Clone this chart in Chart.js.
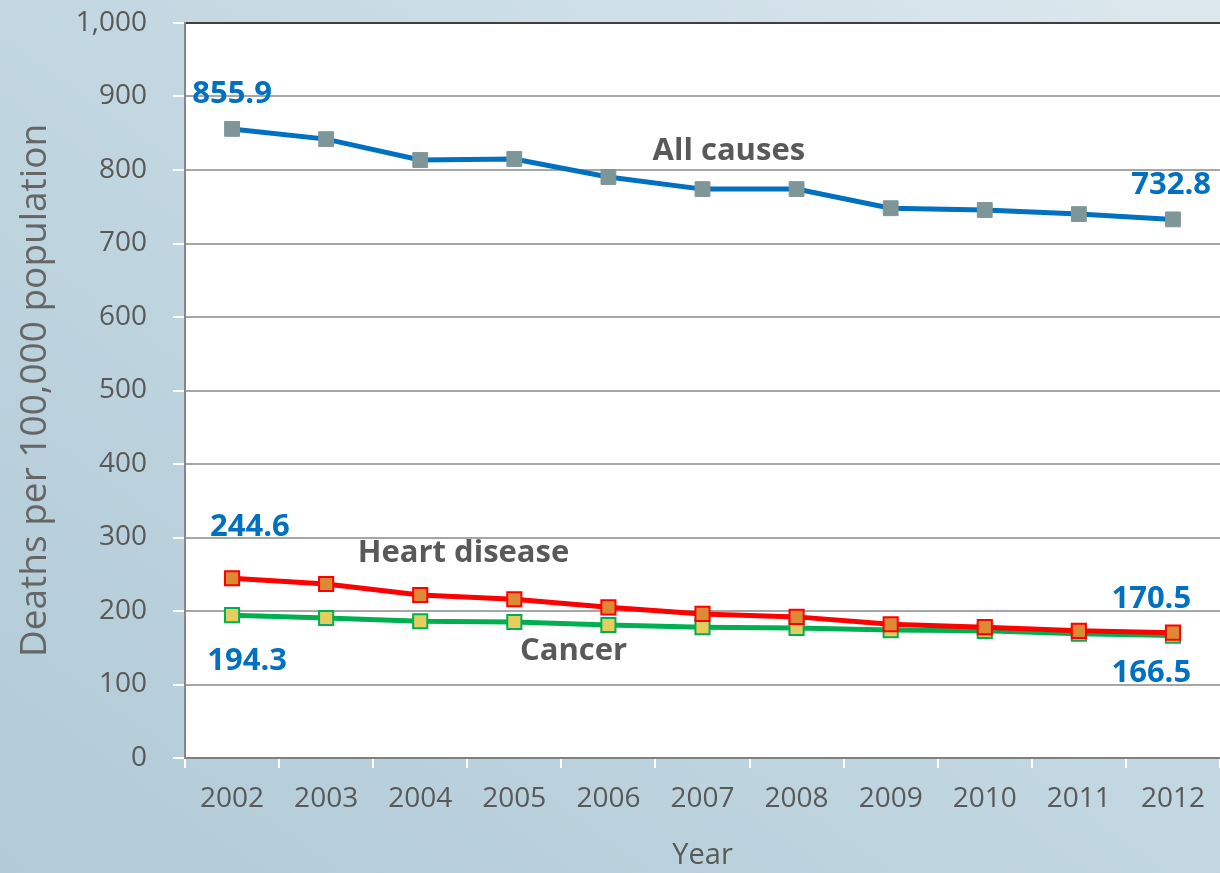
<!DOCTYPE html>
<html>
<head>
<meta charset="utf-8">
<script src="https://cdn.jsdelivr.net/npm/chart.js@4"></script>
<style>
  html, body { margin: 0; padding: 0; }
  body {
    width: 1220px; height: 873px; overflow: hidden;
    background: linear-gradient(to top right, #b2cbd8 0%, #c3d8e2 55%, #dde8ee 100%);
  }
  #wrap { position: relative; width: 1220px; height: 873px; }
</style>
</head>
<body>
<div id="wrap"><canvas id="deathChart" width="1220" height="873"></canvas></div>
<script>
// Дані з графіка
const years = ["2002", "2003", "2004", "2005", "2006", "2007", "2008", "2009", "2010", "2011", "2012"];
const allCauses = [855.9, 842, 813.6, 815, 790.5, 774, 774, 748, 745.6, 740, 732.8];
const heartDisease = [244.6, 236.7, 221.8, 216, 205, 196, 192, 182, 178, 173, 170.5];
const cancer = [194.3, 190.5, 186, 185, 181, 178, 177, 174, 173, 169, 166.5];

// Підписи: текст і точка прив'язки (індекс категорії, значення)
const notes = [
  { text: "855.9", at: [0, 903], color: "#0070c0" },
  { text: "732.8", at: [9.98, 780], color: "#0070c0" },
  { text: "244.6", at: [0.19, 314], color: "#0070c0" },
  { text: "194.3", at: [0.16, 132], color: "#0070c0" },
  { text: "170.5", at: [9.77, 216], color: "#0070c0" },
  { text: "166.5", at: [9.77, 116], color: "#0070c0" },
  { text: "All causes", at: [5.28, 826], color: "#595959" },
  { text: "Heart disease", at: [2.46, 279], color: "#595959" },
  { text: "Cancer", at: [3.63, 146], color: "#595959" },
];

const FONT = "'Open Sans', 'DejaVu Sans', sans-serif";

const plotBg = {
  id: "plotBg",
  beforeDraw(chart) {
    const { ctx, chartArea: a } = chart;
    ctx.save();
    ctx.fillStyle = "#ffffff";
    ctx.fillRect(a.left, a.top, a.right - a.left, a.bottom - a.top);
    ctx.restore();
  },
};

const noteLabels = {
  id: "noteLabels",
  afterDatasetsDraw(chart) {
    const { ctx, scales } = chart;
    ctx.save();
    ctx.font = "bold 31px " + FONT;
    ctx.textAlign = "center";
    ctx.textBaseline = "middle";
    notes.forEach((n) => {
      ctx.fillStyle = n.color;
      ctx.fillText(n.text, scales.x.getPixelForValue(n.at[0]), scales.y.getPixelForValue(n.at[1]));
    });
    ctx.restore();
  },
};

const ctx = document.getElementById("deathChart").getContext("2d");
new Chart(ctx, {
  type: "line",
  data: {
    labels: years,
    datasets: [
      {
        label: "All causes",
        data: allCauses,
        borderColor: "#0070c0",
        borderWidth: 5,
        pointStyle: "rect",
        pointRadius: 10.5,
        pointBackgroundColor: "#7f9699",
        pointBorderColor: "#7f9699",
        pointBorderWidth: 1,
        tension: 0,
      },
      {
        label: "Heart disease",
        data: heartDisease,
        borderColor: "#ff0000",
        borderWidth: 5,
        pointStyle: "rect",
        pointRadius: 10,
        pointBackgroundColor: "#dd8a35",
        pointBorderColor: "#ff0000",
        pointBorderWidth: 2,
        tension: 0,
      },
      {
        label: "Cancer",
        data: cancer,
        borderColor: "#00b050",
        borderWidth: 5,
        pointStyle: "rect",
        pointRadius: 10,
        pointBackgroundColor: "#e5cd5f",
        pointBorderColor: "#00b050",
        pointBorderWidth: 2,
        tension: 0,
      },
    ],
  },
  options: {
    responsive: false,
    animation: false,
    layout: { autoPadding: false, padding: { top: 23, right: 0, left: 0, bottom: 0 } },
    plugins: {
      legend: { display: false },
      tooltip: { enabled: false },
    },
    scales: {
      x: {
        offset: true,
        afterFit: (s) => {
          s.height = 115;
          s.paddingLeft = 0;
          s.paddingRight = 0;
        },
        grid: {
          offset: true,
          drawOnChartArea: false,
          tickColor: "#ffffff",
          tickLength: 10,
          lineWidth: 2,
        },
        border: { color: "#808080", width: 2 },
        ticks: {
          color: "#595959",
          font: { family: FONT, size: 28 },
          padding: 14,
          maxRotation: 0,
        },
        title: {
          display: true,
          text: "Year",
          color: "#595959",
          font: { family: FONT, size: 29 },
          padding: 0,
        },
      },
      y: {
        min: 0,
        max: 1000,
        afterFit: (s) => {
          s.width = 185;
          s.paddingTop = 0;
          s.paddingBottom = 0;
        },
        grid: {
          color: (c) => (c.tick && c.tick.value === 1000 ? "#3f3f3f" : "#a6a6a6"),
          lineWidth: 2,
          tickColor: "#ffffff",
          tickLength: 12,
        },
        border: { color: "#868686", width: 2 },
        ticks: {
          stepSize: 100,
          color: "#595959",
          font: { family: FONT, size: 28 },
          padding: 26,
        },
        title: {
          display: true,
          text: "Deaths per 100,000 population",
          color: "#666666",
          font: { family: FONT, size: 37 },
          padding: { top: 13 },
        },
      },
    },
  },
  plugins: [plotBg, noteLabels],
});
</script>
</body>
</html>
